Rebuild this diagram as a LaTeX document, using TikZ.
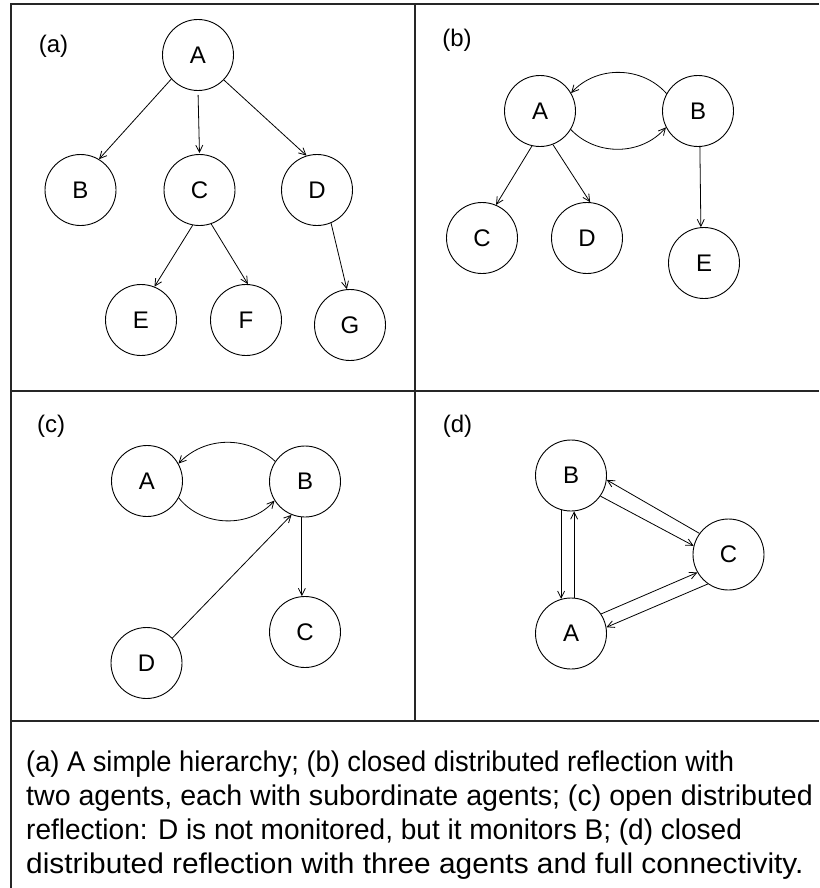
\documentclass[tikz,border=0pt]{standalone}
\usepackage{fontspec}
\setmainfont{Liberation Sans}
\usetikzlibrary{arrows.meta}

\begin{document}
\begin{tikzpicture}[x=1pt,y=-1pt,
  agent/.style={circle,draw,line width=0.9pt,minimum size=71pt,inner sep=0pt,
                font=\fontsize{24}{24}\selectfont},
  tag/.style={inner sep=0pt,font=\fontsize{24}{24}\selectfont},
  link/.style={line width=0.8pt,-{Straight Barb[length=7pt,width=7pt]}},
  frame/.style={line width=1.5pt,black!85,line join=miter},
  capline/.style={anchor=base west,inner sep=0pt,
                  font=\fontsize{28.5}{34}\selectfont}]
\useasboundingbox (0,0) rectangle (819,888);

% panel grid
\draw[frame] (819,4) -- (11,4) -- (11,888);
\draw[frame] (415,4) -- (415,721);
\draw[frame] (11,391) -- (819,391);
\draw[frame] (11,721) -- (819,721);

% (a) a simple hierarchy
\node[tag] (la) at (53.5,46) {(a)};
\node[agent] (aA) at (198,55) {A};
\node[agent] (aB) at (80.5,190) {B};
\node[agent] (aC) at (199.5,190) {C};
\node[agent] (aD) at (317,190) {D};
\node[agent] (aE) at (141,320) {E};
\node[agent] (aF) at (246,320) {F};
\node[agent] (aG) at (350,325) {G};
\draw[link] (aA.-138) -- (aB.59);
\draw[link,shorten <=4pt,shorten >=1pt] (aA.south) -- (aC.north);
\draw[link] (aA.-44) -- (aD.107);
\draw[link] (aC.-101) -- (aE.68);
\draw[link] (aC.-71) -- (aF.87);
\draw[link] (aD.-67) -- (aG.95);

% (b) two agents monitoring each other
\node[tag] (lb) at (457,40) {(b)};
\node[agent] (bA) at (540,111) {A};
\node[agent] (bB) at (698,111) {B};
\node[agent] (bC) at (482,238) {C};
\node[agent] (bD) at (587,238) {D};
\node[agent] (bE) at (704,263) {E};
\draw[link] (bB.151) to[bend right=48] (bA.30);
\draw[link] (bA.-31) to[bend right=48] (bB.-153);
\draw[link] (bA.-103) -- (bC.67);
\draw[link] (bA.-69) -- (bD.85);
\draw[link] (bB.-87) -- (bE.95);

% (c) open distributed reflection
\node[tag] (lc) at (51,426) {(c)};
\node[agent] (cA) at (147,481) {A};
\node[agent] (cB) at (305,481.5) {B};
\node[agent] (cC) at (305,632) {C};
\node[agent] (cD) at (146.5,663) {D};
\draw[link] (cB.146) to[bend right=45] (cA.29);
\draw[link] (cA.-28) to[bend right=50] (cB.-148);
\draw[link] (cB.-95) -- (cC.95);
\draw[link] (cD.44.5) -- (cB.-112);

% (d) three agents, full connectivity
\node[tag] (ld) at (457.5,426) {(d)};
\node[agent] (dB) at (571,475.5) {B};
\node[agent] (dC) at (728.5,554.5) {C};
\node[agent] (dA) at (571,633.5) {A};
\draw[link] (dB.-106) -- (dA.106);
\draw[link] (dA.85) -- (dB.-85);
\draw[link] (dB.-35) -- (dC.166);
\draw[link] (dC.144) -- (dB.-7);
\draw[link] (dA.33) -- (dC.210);
\draw[link] (dC.-125) -- (dA.10);

% caption, one line per node, each fitted to its measure
\node[capline] (cap1) at (26,771) {\scalebox{0.957}[1]{(a) A simple hierarchy; (b) closed distributed reflection with}};
\node[capline] (cap2) at (26,805) {\scalebox{1.003}[1]{two agents, each with subordinate agents; (c) open distributed}};
\node[capline] (cap3) at (26,839) {\scalebox{0.983}[1]{reflection: D is not monitored, but it monitors B; (d) closed}};
\node[capline] (cap4) at (26,873) {\scalebox{1.047}[1]{distributed reflection with three agents and full connectivity.}};
\end{tikzpicture}
\end{document}
